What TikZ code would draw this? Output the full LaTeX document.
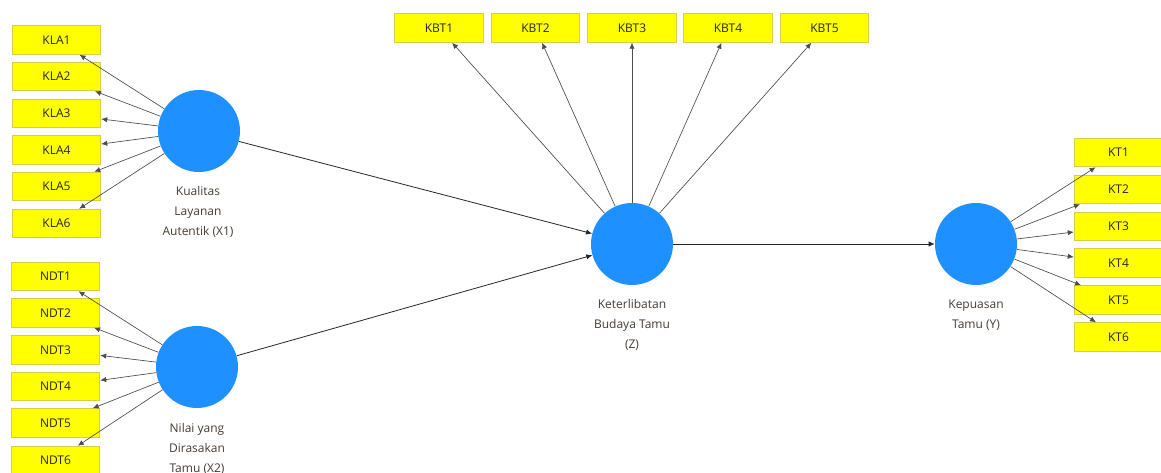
\documentclass[tikz,border=0pt]{standalone}
\usepackage{fontspec}
\setmainfont{Open Sans}
\usetikzlibrary{arrows.meta}

\definecolor{latentblue}{RGB}{30,144,255}
\definecolor{itemyellow}{RGB}{255,255,0}
\definecolor{itemborder}{RGB}{215,205,70}
\definecolor{labelgray}{RGB}{70,60,50}

\tikzset{
  latent/.style={circle, fill=latentblue, minimum size=61.5pt, inner sep=0pt},
  indicator/.style={rectangle, fill=itemyellow, draw=itemborder, line width=0.6pt,
    minimum width=66.5pt, minimum height=21.5pt, inner sep=0pt,
    text=black!85, font=\fontsize{9}{11}\selectfont},
  loading/.style={draw=black!70, line width=0.5pt, -{Latex[length=4.5pt,width=4pt]}},
  structural/.style={draw=black!85, line width=0.6pt, -{Latex[length=4.5pt,width=4pt]}},
  latentlabel/.style={align=center, text=labelgray, font=\fontsize{9}{15}\selectfont}
}

\begin{document}
\begin{tikzpicture}[x=0.75pt, y=-0.75pt]
  \useasboundingbox (0,0) rectangle (1161,472);

  % Latent variables
  \node[latent] (x1) at (199,131) {};
  \node[latent] (x2) at (197,367) {};
  \node[latent] (z) at (632,244) {};
  \node[latent] (y) at (976,244) {};

  % Labels under the circles
  \node[latentlabel] (x1lab) at (198,212) {Kualitas\\Layanan\\Autentik (X1)};
  \node[latentlabel] (x2lab) at (197,449) {Nilai yang\\Dirasakan\\Tamu (X2)};
  \node[latentlabel] (zlab) at (632,325) {Keterlibatan\\Budaya Tamu\\(Z)};
  \node[latentlabel] (ylab) at (976,315) {Kepuasan\\Tamu (Y)};

  % Indicators X1
  \node[indicator] (kla1) at (56.5,40) {KLA1};
  \node[indicator] (kla2) at (56.5,76.5) {KLA2};
  \node[indicator] (kla3) at (56.5,113.5) {KLA3};
  \node[indicator] (kla4) at (56.5,150) {KLA4};
  \node[indicator] (kla5) at (56.5,186.5) {KLA5};
  \node[indicator] (kla6) at (56.5,223.5) {KLA6};

  % Indicators X2
  \node[indicator] (ndt1) at (55.5,276.5) {NDT1};
  \node[indicator] (ndt2) at (55.5,313) {NDT2};
  \node[indicator] (ndt3) at (55.5,350) {NDT3};
  \node[indicator] (ndt4) at (55.5,386.5) {NDT4};
  \node[indicator] (ndt5) at (55.5,423) {NDT5};
  \node[indicator] (ndt6) at (55.5,460.5) {NDT6};

  % Indicators Z
  \node[indicator] (kbt1) at (439,28) {KBT1};
  \node[indicator] (kbt2) at (535.5,28) {KBT2};
  \node[indicator] (kbt3) at (632,28) {KBT3};
  \node[indicator] (kbt4) at (728,28) {KBT4};
  \node[indicator] (kbt5) at (824.5,28) {KBT5};

  % Indicators Y
  \node[indicator] (kt1) at (1118.5,152.5) {KT1};
  \node[indicator] (kt2) at (1118.5,189.5) {KT2};
  \node[indicator] (kt3) at (1118.5,226.5) {KT3};
  \node[indicator] (kt4) at (1118.5,263) {KT4};
  \node[indicator] (kt5) at (1118.5,300) {KT5};
  \node[indicator] (kt6) at (1118.5,337) {KT6};

  % Loadings
  \draw[loading] (x1) -- (kla1);
  \draw[loading] (x1) -- (kla2);
  \draw[loading] (x1) -- (kla3);
  \draw[loading] (x1) -- (kla4);
  \draw[loading] (x1) -- (kla5);
  \draw[loading] (x1) -- (kla6);

  \draw[loading] (x2) -- (ndt1);
  \draw[loading] (x2) -- (ndt2);
  \draw[loading] (x2) -- (ndt3);
  \draw[loading] (x2) -- (ndt4);
  \draw[loading] (x2) -- (ndt5);
  \draw[loading] (x2) -- (ndt6);

  \draw[loading] (z) -- (kbt1);
  \draw[loading] (z) -- (kbt2);
  \draw[loading] (z) -- (kbt3);
  \draw[loading] (z) -- (kbt4);
  \draw[loading] (z) -- (kbt5);

  \draw[loading] (y) -- (kt1);
  \draw[loading] (y) -- (kt2);
  \draw[loading] (y) -- (kt3);
  \draw[loading] (y) -- (kt4);
  \draw[loading] (y) -- (kt5);
  \draw[loading] (y) -- (kt6);

  % Structural paths
  \draw[structural] (x1) -- (z);
  \draw[structural] (x2) -- (z);
  \draw[structural] (z) -- (y);
\end{tikzpicture}
\end{document}
